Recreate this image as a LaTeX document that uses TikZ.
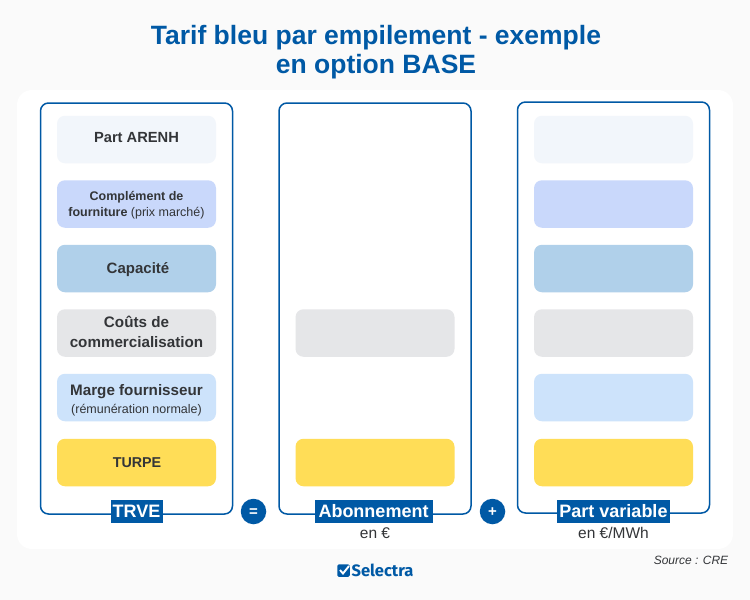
\documentclass[tikz,border=0pt]{standalone}
\usepackage{fontspec}
\setmainfont{Liberation Sans}
\newfontfamily\logofont{Fira Sans}
\usepackage{tikz}
\definecolor{selblue}{HTML}{0059A5}
\definecolor{pagegrey}{HTML}{FAFAFA}
\definecolor{txtgrey}{HTML}{333538}
\definecolor{arenh}{HTML}{F2F6FB}
\definecolor{complement}{HTML}{C9D8FB}
\definecolor{capacite}{HTML}{B0D0EA}
\definecolor{couts}{HTML}{E5E6E8}
\definecolor{marge}{HTML}{CDE3FB}
\definecolor{turpe}{HTML}{FFDD57}
\newcommand{\fs}[1]{\fontsize{#1}{#1}\selectfont}
\tikzset{
  bar/.style={rounded corners=8pt, minimum width=159pt, minimum height=47.5pt, inner sep=0pt},
  barlabel/.style={inner sep=0pt, align=center, text=txtgrey, font=\fs{15}\bfseries},
  column/.style={draw=selblue, line width=1.5pt, rounded corners=8pt, minimum width=192pt,
    minimum height=411pt, inner sep=0pt},
  tag/.style={fill=selblue, text=white, font=\fs{18}\bfseries, inner sep=0pt, minimum height=23pt},
  sign/.style={circle, fill=selblue, text=white, minimum size=25.5pt, inner sep=0pt, font=\fs{15}\bfseries},
  unit/.style={text=txtgrey, font=\fs{15.5}, inner sep=0pt}
}
\begin{document}
\begin{tikzpicture}[x=1pt, y=-1pt]
      \useasboundingbox (0,0) rectangle (750,600);
      \fill[pagegrey] (0,0) rectangle (750,600);
      \fill[white, rounded corners=15pt] (17,90) rectangle (733,549);
      \node[text=selblue, align=center, font=\fs{26.5}\bfseries] (title) at (376,52) {Tarif bleu par empilement - exemple\\[2pt]en option BASE};

      % the three columns
      \node[column] (trve) at (136.5,308.5) {};
      \node[column] (abo) at (375,308.5) {};
      \node[column] (var) at (613.5,307.5) {};

      % the bars of the three columns
      \foreach \name/\y/\col in {1/139.5/arenh, 2/204/complement, 3/268.5/capacite, 4/333/couts, 5/397.5/marge, 6/462.5/turpe}{
          \node[bar, fill=\col] (a\name) at (136.5,\y) {};
          \node[bar, fill=\col] (c\name) at (613.5,\y) {};
      }
      \foreach \name/\y/\col in {4/333/couts, 6/462.5/turpe}{
          \node[bar, fill=\col] (b\name) at (375,\y) {};
      }

      % texts of the left column
      \node[barlabel, font=\fs{14.7}\bfseries] (a1text) at (136.5,138) {Part ARENH};
      \node[barlabel, font=\fs{12.5}] (a2text) at (136.5,205.5) {\bfseries Complément de\\[3.5pt]\bfseries fourniture \normalfont(prix marché)};
      \node[barlabel] (a3text) at (138,269.5) {Capacité};
      \node[barlabel, font=\fs{15.2}\bfseries] (a4text) at (136.5,332) {Coûts de\\[5pt]commercialisation};
      \node[barlabel, font=\fs{15.2}\bfseries] (a5text) at (136.5,400) {Marge fournisseur\\[3pt]{\fs{12.5}\normalfont (rémunération normale)}};
      \node[barlabel, font=\fs{14.3}\bfseries] (a6text) at (137,462.5) {TURPE};

      % names under the columns
      \node[tag, minimum width=52pt] (trvetag) at (136.5,511) {TRVE};
      \node[tag, minimum width=118pt] (abotag) at (373.5,511) {Abonnement};
      \node[tag, minimum width=113pt] (vartag) at (613.5,511) {Part variable};
      \node[unit] (abounit) at (375,533) {en €};
      \node[unit] (varunit) at (613.5,533) {en €/MWh};
      \node[sign] (eq) at (253.5,511.5) {\raisebox{-5pt}[0pt][0pt]{=}};
      \node[sign] (plus) at (492.5,511.5) {\raisebox{-5pt}[0pt][0pt]{+}};

      \node[text=txtgrey, font=\fs{12}\itshape, inner sep=0pt] (source) at (691,560.5) {Source : CRE};

      % logo
      \node[fill=selblue, rounded corners=1.5pt, minimum size=12.5pt, inner sep=0pt] (logobox) at (343.5,570.5) {};
      \draw[white, line width=1.9pt] (340,570) -- (343,573.5) -- (349,566);
      \node[text=selblue, font=\fs{16.5}\logofont\bfseries, inner sep=0pt] (logo) at (382.5,570) {Selectra};
\end{tikzpicture}
\end{document}
